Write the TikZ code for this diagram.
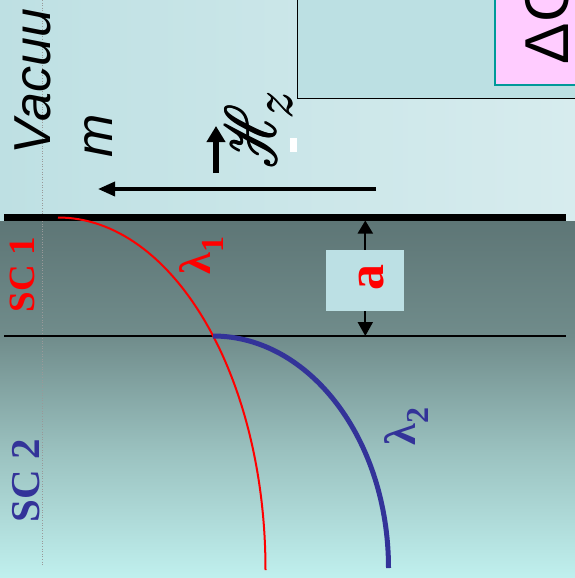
\documentclass[tikz,border=0pt]{standalone}
\usepackage{fontspec}
\usepackage{mathrsfs}
\usepackage{graphicx}
\setmainfont{Liberation Serif}
\newfontfamily\arialf{Liberation Sans}
\usetikzlibrary{arrows.meta}
\newcommand\myscrH{\scalebox{2}[2.9]{$\mathscr{H}$}}
\newcommand\myboldscrH{\rlap{\myscrH}\rlap{\kern0.8pt\myscrH}\rlap{\raisebox{0.8pt}{\myscrH}}\kern0.8pt\raisebox{0.8pt}{\myscrH}}
\newcommand\myz{\scalebox{2.2}{$z$}}
\newcommand\myboldz{\rlap{\myz}\rlap{\kern0.6pt\myz}\kern0.6pt\raisebox{0.6pt}{\myz}}
\definecolor{vacL}{HTML}{BEE0E3}
\definecolor{vacR}{HTML}{D7ECEE}
\definecolor{rectfill}{HTML}{BCE0E3}
\definecolor{sca}{HTML}{5E7676}
\definecolor{scb}{HTML}{708C8B}
\definecolor{scc}{HTML}{9AC1BF}
\definecolor{scd}{HTML}{C0F0EE}
\definecolor{pinkbox}{HTML}{FFCCFF}
\definecolor{tealedge}{HTML}{009999}
\definecolor{scblue}{HTML}{333399}
\definecolor{abox}{HTML}{BCE0E4}
\tikzset{
  rottext/.style={rotate=90, anchor=base west, inner sep=0pt, outer sep=0pt},
  layerline/.style={draw=black, line cap=butt},
}
\begin{document}
\begin{tikzpicture}[x=1pt,y=-1pt]
\useasboundingbox (0,0) rectangle (575,578);
\clip (0,0) rectangle (575,578);
% backgrounds
\shade[left color=vacL, right color=vacR] (0,0) rectangle (575,222);
\shade[top color=sca, bottom color=scb] (0,221.5) rectangle (575,336.5);
\shade[top color=scb, bottom color=scc] (0,336) rectangle (575,450.5);
\shade[top color=scc, bottom color=scd] (0,450) rectangle (575,578);
% boxes at top right
\draw[line width=1.8pt, fill=rectfill] (297.5,-5) rectangle (585,98.5);
\node[draw=tealedge, line width=1.5pt, fill=pinkbox, minimum width=95pt, minimum height=95pt, anchor=north west, inner sep=0pt] (pink) at (494,-11) {};
\node[rottext, font=\arialf\fontsize{62}{62}\selectfont] (dg) at (568,64) {ΔG};
% dotted guide
\coordinate (dtop) at (42,0);
\coordinate (dbot) at (42,565);
\draw[gray!80, dotted, line width=0.6pt] (dtop) -- (dbot);
% layer boundaries
\coordinate (tl) at (4,217.5);
\coordinate (tr) at (566,217.5);
\coordinate (bl) at (4,336);
\coordinate (br) at (566,336);
\draw[layerline, line width=7pt] (tl) -- (tr);
\draw[layerline, line width=2pt] (bl) -- (br);
% curves
\coordinate (r0) at (58,217.5);
\coordinate (r1) at (265.5,570);
\coordinate (b0) at (213,336);
\coordinate (b1) at (388.5,568);
\draw[red, line width=2pt] (r0) .. controls (172.3,217.5) and (265.5,375) .. (r1);
\draw[scblue, line width=5pt] (b0) .. controls (309.7,336) and (388.5,439.9) .. (b1);
% vacuum label
\node[rottext, font=\arialf\itshape\fontsize{52}{52}\selectfont] (vac) at (50,154) {Vacuu};
\node[rottext, font=\arialf\itshape\fontsize{52}{52}\selectfont] (vacm) at (112,157) {m};
% field arrows
\coordinate (hz0) at (216,173);
\coordinate (hz1) at (216,126);
\draw[line width=6pt, -{Triangle[width=18pt,length=16pt]}] (hz0) -- (hz1);
\node[rottext] (hz) at (276,168) {\fontsize{24.88}{30}\selectfont\myboldscrH\kern-15pt\raisebox{-16pt}{\myboldz}};
\node[fill=white, inner sep=0pt, minimum width=7pt, minimum height=14pt, anchor=north west] (wbox) at (290,138) {};
\coordinate (la0) at (376,189);
\coordinate (la1) at (98,189);
\draw[line width=3.5pt, -{Triangle[width=14pt,length=17pt]}] (la0) -- (la1);
% thickness a
\coordinate (at) at (365.3,220.5);
\coordinate (ab) at (365.3,336);
\draw[line width=2pt, {Triangle[width=15pt,length=13pt]}-{Triangle[width=15pt,length=14pt]}] (at) -- (ab);
\node[fill=abox, inner sep=0pt, minimum width=78pt, minimum height=60.5pt, anchor=north west] (abx) at (326,250) {};
\node[rottext, text=red, font=\bfseries\fontsize{52}{52}\selectfont] (alab) at (383,290) {a};
% layer labels
\node[rottext, text=red, font=\bfseries\fontsize{37}{37}\selectfont] (sc1) at (34,312) {SC 1};
\node[rottext, text=scblue, font=\bfseries\fontsize{41}{41}\selectfont] (sc2) at (39,522) {SC 2};
\node[rottext, text=red] (lam1) at (210,274) {\bfseries\fontsize{44}{44}\selectfont λ\raisebox{-13pt}{\fontsize{32}{32}\selectfont 1}};
\node[rottext, text=scblue] (lam2) at (415,445) {\bfseries\fontsize{44}{44}\selectfont λ\raisebox{-13pt}{\fontsize{32}{32}\selectfont 2}};
\end{tikzpicture}
\end{document}
